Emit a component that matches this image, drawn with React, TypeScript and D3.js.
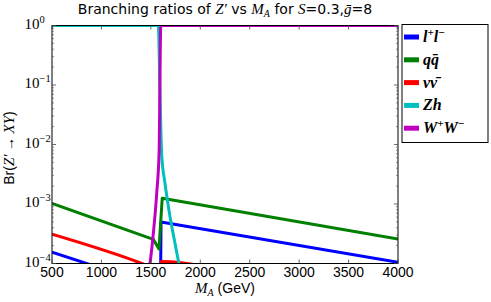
import React from "react";
import * as d3 from "d3";

// ---------- data ----------
const xTickValues = [500, 1000, 1500, 2000, 2500, 3000, 3500, 4000];
const yTickExponents = [0, -1, -2, -3, -4];

const llMass = [500, 1000, 1598, 1603, 4000];
const llBr = [1.55e-4, 8.3e-5, 4.0e-5, 5.0e-4, 1.05e-4];

const qqMass = [500, 1525, 1582, 1615, 4000];
const qqBr = [1.02e-3, 2.55e-4, 1.75e-4, 1.25e-3, 2.57e-4];

const nnMass = [500, 1408, 1598, 1605, 1700, 1960, 2500];
const nnBr = [3.1e-4, 1.0e-4, 7.5e-5, 1.08e-4, 1.07e-4, 9.5e-5, 8e-5];

const zhMass = [500, 1575, 1592, 1610, 1643, 1694, 1744, 1785, 1850];
const zhBr = [1, 1, 8.1e-2, 6.6e-3, 2.23e-3, 6.1e-4, 2.2e-4, 1e-4, 5e-5];

const wwMass = [1470, 1491, 1525, 1559, 1584, 1591, 1600, 4000];
const wwBr = [6e-5, 1e-4, 3.2e-4, 1.5e-3, 8e-3, 8e-2, 1, 1];

const seriesNames = ["ll", "qq", "nn", "zh", "ww"];
const seriesColors = ["#0000ff", "#008000", "#ff0000", "#00bfbf", "#bf00bf"];

// ---------- layout ----------
const W = 491;
const H = 302;
const L = 52, R = 398, T = 25.5, B = 263.5;

const serif = "'Liberation Serif', 'DejaVu Serif', serif";
const sans = "'Liberation Sans', Arial, sans-serif";
const titleSans = "'DejaVu Sans', 'Liberation Sans', sans-serif";

function zip(m: number[], v: number[]): [number, number][] {
  return m.map((mm, i) => [mm, v[i]]);
}

export default function App() {
  const x = d3.scaleLinear().domain([500, 4000]).range([L, R]);
  const y = d3.scaleLog().domain([1e-4, 1]).range([B, T]);
  const line = d3
    .line<[number, number]>()
    .x((d) => x(d[0]))
    .y((d) => y(d[1]));
  const curve = d3
    .line<[number, number]>()
    .x((d) => x(d[0]))
    .y((d) => y(d[1]))
    .curve(d3.curveMonotoneX);

  const series = [
    { d: zip(llMass, llBr), c: seriesColors[0], g: line },
    { d: zip(qqMass, qqBr), c: seriesColors[1], g: line },
    { d: zip(nnMass, nnBr), c: seriesColors[2], g: curve },
    { d: zip(zhMass, zhBr), c: seriesColors[3], g: curve },
    { d: zip(wwMass, wwBr), c: seriesColors[4], g: curve },
  ];

  const minor: number[] = [];
  for (let k = -4; k < 0; k++) for (let m = 2; m <= 9; m++) minor.push(m * Math.pow(10, k));

  const tickColor = "#444";

  const legendX = 402, legendY = 24.5, legendW = 86, legendH = 118;
  const legendLabels = [
    <>
      <tspan>l</tspan>
      <tspan dy={-6} fontSize={11}>+</tspan>
      <tspan dy={6}>l</tspan>
      <tspan dy={-6} fontSize={11}>−</tspan>
    </>,
    <>q{"q\u0304"}</>,
    <>ν{"ν\u0304"}</>,
    <>Zh</>,
    <>
      <tspan>W</tspan>
      <tspan dy={-6} fontSize={11}>+</tspan>
      <tspan dy={6}>W</tspan>
      <tspan dy={-6} fontSize={11}>−</tspan>
    </>,
  ];

  return (
    <svg
      width={W}
      height={H}
      style={{ position: "absolute", left: 0, top: 0, background: "#fff" }}
    >
      <rect x={0} y={0} width={W} height={H} fill="#fff" />
      <defs>
        <clipPath id="plotclip">
          <rect x={L} y={T} width={R - L} height={B - T} />
        </clipPath>
      </defs>
      <g clipPath="url(#plotclip)">
        {series.map((s, i) => (
          <path
            key={seriesNames[i]}
            d={s.g(s.d) || ""}
            fill="none"
            stroke={s.c}
            strokeWidth={3}
            strokeLinejoin="round"
          />
        ))}
      </g>
      {/* frame */}
      <rect x={L} y={T} width={R - L} height={B - T} fill="none" stroke="#000" strokeWidth={1} />
      {/* x ticks */}
      {xTickValues.map((v) => (
        <g key={"xt" + v}>
          <line x1={x(v)} x2={x(v)} y1={B} y2={B - 4} stroke={tickColor} strokeWidth={0.8} />
          <line x1={x(v)} x2={x(v)} y1={T} y2={T + 4} stroke={tickColor} strokeWidth={0.8} />
          <text
            x={x(v)}
            y={277}
            textAnchor="middle"
            fontFamily={sans}
            fontSize={14}
            fill="#000"
          >
            {v}
          </text>
        </g>
      ))}
      {/* y ticks */}
      {yTickExponents.map((e) => {
        const yy = y(Math.pow(10, e));
        return (
          <g key={"yt" + e}>
            <line x1={L} x2={L + 4} y1={yy} y2={yy} stroke={tickColor} strokeWidth={0.8} />
            <line x1={R} x2={R - 4} y1={yy} y2={yy} stroke={tickColor} strokeWidth={0.8} />
            <text x={39.5} y={yy + 3} textAnchor="end" fontFamily={serif} fontSize={15} fill="#000">
              10
            </text>
            <text x={39.5} y={yy - 3} textAnchor="start" fontFamily={serif} fontSize={10.5} fill="#000">
              {e === 0 ? "0" : "−" + Math.abs(e)}
            </text>
          </g>
        );
      })}
      {minor.map((v, i) => (
        <g key={"mn" + i}>
          <line x1={L} x2={L + 2} y1={y(v)} y2={y(v)} stroke={tickColor} strokeWidth={0.6} />
          <line x1={R} x2={R - 2} y1={y(v)} y2={y(v)} stroke={tickColor} strokeWidth={0.6} />
        </g>
      ))}
      {/* title */}
      <text x={225} y={13.5} textAnchor="middle" fontFamily={titleSans} fontSize={14} fill="#000">
        <tspan>Branching ratios of </tspan>
        <tspan fontFamily={serif} fontStyle="italic" fontSize={15}>Z′</tspan>
        <tspan> vs </tspan>
        <tspan fontFamily={serif} fontStyle="italic" fontSize={15}>M</tspan>
        <tspan fontFamily={serif} fontStyle="italic" fontSize={10} dy={3}>A</tspan>
        <tspan dy={-3}> for </tspan>
        <tspan fontFamily={serif} fontStyle="italic" fontSize={15}>S</tspan>
        <tspan>=0.3,</tspan>
        <tspan fontFamily={serif} fontStyle="italic" fontSize={15}>{"g\u0304"}</tspan>
        <tspan>=8</tspan>
      </text>
      {/* x label */}
      <text x={225} y={293} textAnchor="middle" fontFamily={sans} fontSize={14} fill="#000">
        <tspan fontFamily={serif} fontStyle="italic" fontSize={15}>M</tspan>
        <tspan fontFamily={serif} fontStyle="italic" fontSize={10} dy={3}>A</tspan>
        <tspan dy={-3}> (GeV)</tspan>
      </text>
      {/* y label */}
      <text
        transform="translate(14,148) rotate(-90)"
        textAnchor="middle"
        fontFamily={sans}
        fontSize={14}
        fill="#000"
      >
        <tspan>Br(</tspan>
        <tspan fontFamily={serif} fontStyle="italic" fontSize={15}>Z′</tspan>
        <tspan fontFamily={serif}> → </tspan>
        <tspan fontFamily={serif} fontStyle="italic" fontSize={15}>XY</tspan>
        <tspan>)</tspan>
      </text>
      {/* legend */}
      <rect x={legendX} y={legendY} width={legendW} height={legendH} fill="#fff" stroke="#000" strokeWidth={1} />
      {seriesNames.map((n, i) => {
        const yy = 37 + i * 22.8;
        return (
          <g key={"lg" + n}>
            <line x1={404} x2={419} y1={yy} y2={yy} stroke={seriesColors[i]} strokeWidth={5} />
            <text
              x={423}
              y={yy + 5}
              fontFamily={serif}
              fontStyle="italic"
              fontWeight="bold"
              fontSize={16}
              fill="#000"
            >
              {legendLabels[i]}
            </text>
          </g>
        );
      })}
    </svg>
  );
}
